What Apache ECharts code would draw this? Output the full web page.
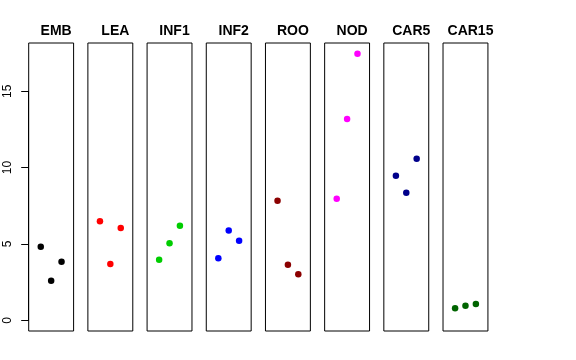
<!DOCTYPE html>
<html>
<head>
<meta charset="utf-8">
<script src="https://cdn.jsdelivr.net/npm/echarts@6/dist/echarts.min.js"></script>
<style>html,body{margin:0;padding:0;background:#fff}#c{width:576px;height:360px}</style>
</head>
<body>
<div id="c"></div>
<script>
const panels = ['EMB', 'LEA', 'INF1', 'INF2', 'ROO', 'NOD', 'CAR5', 'CAR15'];
const xPos = [1, 2, 3];
const valEMB = [4.82, 2.59, 3.84];
const valLEA = [6.48, 3.69, 6.04];
const valINF1 = [3.97, 5.04, 6.20];
const valINF2 = [4.06, 5.89, 5.21];
const valROO = [7.83, 3.64, 3.01];
const valNOD = [7.96, 13.18, 17.46];
const valCAR5 = [9.47, 8.36, 10.58];
const valCAR15 = [0.79, 0.96, 1.07];
const yTicks = [0, 5, 10, 15];
const colors = ['#000000', '#FF0000', '#00CD00', '#0000FF', '#8B0000', '#FF00FF', '#00008B', '#006400'];
const allValues = [valEMB, valLEA, valINF1, valINF2, valROO, valNOD, valCAR5, valCAR15];

const yMaxData = Math.max(...allValues.flat());
const yExt = 0.04 * yMaxData;
const xMin = 0, xMax = 4, xExt = 0.04 * (xMax - xMin);

const boxTop = 43, boxH = 288, boxW = 44.9, firstLeft = 28.7, period = 59.19;
const FONT = '"Liberation Sans", Arial, Helvetica, sans-serif';

const grids = [], xAxes = [], yAxes = [], series = [], titles = [];
panels.forEach((name, i) => {
  const left = firstLeft + i * period;
  grids.push({left: left, top: boxTop, width: boxW, height: boxH, show: true, borderColor: '#000', borderWidth: 1, backgroundColor: 'transparent'});
  xAxes.push({gridIndex: i, type: 'value', min: xMin - xExt, max: xMax + xExt, show: false});
  yAxes.push({gridIndex: i, type: 'value', min: 0 - yExt, max: yMaxData + yExt, show: false});
  series.push({
    type: 'scatter', xAxisIndex: i, yAxisIndex: i,
    symbol: 'circle', symbolSize: 6.5,
    itemStyle: {color: colors[i], opacity: 1},
    data: xPos.map((x, k) => [x, allValues[i][k]]),
    silent: true, animation: false
  });
  titles.push({text: name, left: left + boxW / 2, top: 19, textAlign: 'center',
    textStyle: {fontFamily: FONT, fontWeight: 'bold', fontSize: 14, color: '#000'}});
});

// separate axis grid for the y axis (R-style axis spanning only tick range)
const pxPerUnit = boxH / (yMaxData + 2 * yExt);
const y0px = boxTop + boxH - yExt * pxPerUnit;
const yTopTick = yTicks[yTicks.length - 1];
grids.push({left: firstLeft, top: y0px - yTopTick * pxPerUnit, width: 1, height: yTopTick * pxPerUnit, show: false});
xAxes.push({gridIndex: 8, type: 'value', min: 0, max: 1, show: false});
yAxes.push({gridIndex: 8, type: 'value', min: yTicks[0], max: yTopTick, interval: 5, position: 'left',
  axisLine: {show: true, lineStyle: {color: '#000', width: 1}},
  axisTick: {show: true, inside: false, length: 7.5, lineStyle: {color: '#000'}},
  axisLabel: {show: true, rotate: 90, margin: 15, fontSize: 12, fontFamily: FONT, color: '#000'},
  splitLine: {show: false}});

const chart = echarts.init(document.getElementById('c'), null, {renderer: 'canvas'});
chart.setOption({
  animation: false,
  backgroundColor: '#fff',
  title: titles,
  grid: grids,
  xAxis: xAxes,
  yAxis: yAxes,
  series: series
});
</script>
</body>
</html>
